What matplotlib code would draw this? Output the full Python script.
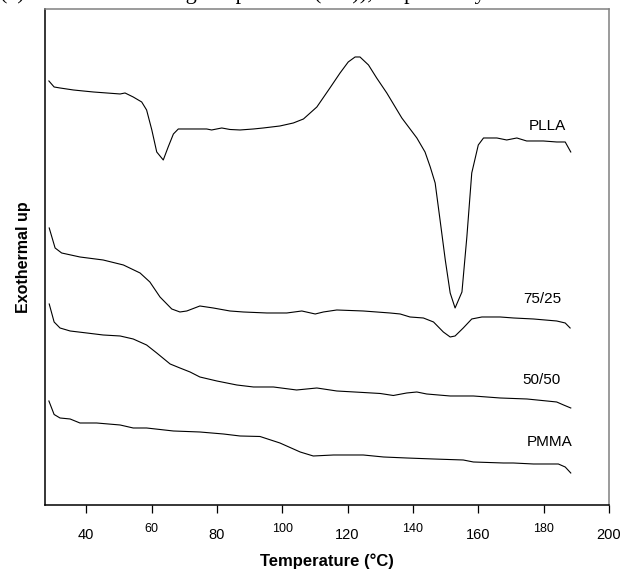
import numpy as np
import matplotlib.pyplot as plt

plt.rcParams["font.family"] = ["Liberation Sans", "DejaVu Sans"]

# DSC heating scans, temperature in degC and heat flow in arbitrary units
plla_t = [28.6, 30.2, 32.0, 36.1, 39.1, 42.2, 46.3, 50.4, 51.9, 54.4, 57.0, 58.5,
          60.1, 61.6, 63.6, 65.1, 66.7, 68.2, 76.9, 78.4, 81.5, 84.0, 87.1, 91.2,
          94.2, 99.3, 103.4, 106.5, 110.6, 114.6, 117.7, 120.2, 122.3, 123.8,
          126.4, 128.9, 132.0, 136.6, 141.2, 143.7, 145.3, 146.8, 148.3, 149.9,
          151.4, 152.9, 155.0, 156.5, 158.0, 160.0, 161.6, 165.7, 168.7, 171.8,
          174.8, 179.9, 184.0, 186.6, 188.3]
plla_h = [42.4, 41.8, 41.7, 41.5, 41.4, 41.3, 41.2, 41.1, 41.2, 40.8, 40.3, 39.5,
          37.5, 35.3, 34.5, 35.8, 37.1, 37.6, 37.6, 37.5, 37.7, 37.55, 37.5, 37.6,
          37.7, 37.9, 38.2, 38.6, 39.8, 41.7, 43.2, 44.3, 44.8, 44.8,
          44.0, 42.7, 41.2, 38.7, 36.7, 35.3, 33.8, 32.2, 28.5, 24.5,
          21.2, 19.7, 21.3, 26.8, 33.2, 36.0, 36.7, 36.7, 36.5, 36.7,
          36.4, 36.4, 36.3, 36.3, 35.3]

blend75_t = [28.7, 30.5, 32.5, 38.1, 45.2, 51.4, 56.5, 59.5, 62.6, 66.2, 68.7,
             70.8, 74.8, 78.9, 84.0, 88.1, 95.3, 101.4, 106.0, 110.1, 112.6,
             116.7, 124.8, 133.0, 136.1, 139.1, 143.2, 146.3, 149.3, 151.4, 152.9,
             155.4, 158.0, 161.1, 166.7, 170.8, 176.9, 184.0, 186.6, 188.1]
blend75_h = [27.7, 25.7, 25.2, 24.8, 24.5, 24.0, 23.2, 22.3, 20.8, 19.6, 19.3,
             19.4, 19.9, 19.7, 19.4, 19.3, 19.2, 19.2, 19.4, 19.1, 19.3,
             19.5, 19.4, 19.2, 19.1, 18.8, 18.7, 18.3, 17.3, 16.8, 16.9,
             17.7, 18.6, 18.8, 18.8, 18.7, 18.6, 18.4, 18.2, 17.7]

blend50_t = [28.7, 30.2, 32.0, 35.1, 40.2, 45.2, 50.4, 54.4, 58.5, 61.6, 65.7,
             68.7, 71.8, 74.8, 80.0, 86.1, 91.2, 97.3, 104.4, 110.6, 116.7,
             124.8, 130.0, 134.0, 138.1, 141.2, 144.2, 151.4, 158.5, 166.7, 174.9,
             181.0, 184.0, 186.1, 188.3]
blend50_h = [20.1, 18.3, 17.7, 17.4, 17.2, 17.0, 16.9, 16.6, 16.0, 15.2, 14.1,
             13.7, 13.3, 12.8, 12.4, 12.0, 11.8, 11.8, 11.5, 11.7, 11.4,
             11.25, 11.15, 10.95, 11.2, 11.3, 11.1, 10.9, 10.9, 10.7, 10.6,
             10.4, 10.3, 10.0, 9.7]

pmma_t = [28.6, 30.2, 32.0, 35.1, 38.1, 43.2, 50.4, 54.4, 58.5, 66.7, 74.8, 82.0,
          87.1, 93.2, 99.3, 105.5, 109.5, 115.7, 124.8, 131.0, 138.1, 146.3,
          155.4, 158.5, 167.7, 170.7, 176.9, 184.5, 186.6, 188.3]
pmma_h = [10.4, 9.05, 8.7, 8.6, 8.2, 8.2, 8.0, 7.7, 7.7, 7.4, 7.3, 7.1,
          6.9, 6.85, 6.2, 5.3, 4.9, 5.0, 5.0, 4.8, 4.7, 4.6,
          4.5, 4.3, 4.2, 4.2, 4.1, 4.1, 3.8, 3.2]

names = ["PLLA", "75/25", "50/50", "PMMA"]
label_t = [181.2, 179.7, 179.4, 181.7]
label_h = [37.85, 20.6, 12.5, 6.25]

major_ticks = [40, 80, 120, 160, 200]
minor_ticks = [60, 100, 140, 180]

fig = plt.figure(figsize=(6.22, 5.71), dpi=100)
ax = fig.add_axes([0.0723, 0.1156, 0.9068, 0.8678])

curves = [(plla_t, plla_h), (blend75_t, blend75_h),
          (blend50_t, blend50_h), (pmma_t, pmma_h)]
for t, h in curves:
    ax.plot(t, h, color="black", lw=0.8)

for i, name in enumerate(names):
    ax.text(label_t[i], label_h[i], name, ha="center", va="center", fontsize=11)

ax.set_xlim(27.4, 200)
ax.set_ylim(0, 49.55)
ax.set_yticks([])

ax.set_xticks(major_ticks)
ax.set_xticks(minor_ticks, minor=True)
ax.set_xticklabels([str(v) for v in major_ticks])
ax.set_xticklabels([str(v) for v in minor_ticks], minor=True)
ax.tick_params(axis="x", which="major", direction="out", length=5.5, width=0.9,
               pad=11, labelsize=10.5)
ax.tick_params(axis="x", which="minor", direction="out", length=5.5, width=0.9,
               pad=7.5, labelsize=9)

for side in ["left", "bottom"]:
    ax.spines[side].set_color("black")
    ax.spines[side].set_linewidth(1.1)
for side in ["top", "right"]:
    ax.spines[side].set_color("#808080")
    ax.spines[side].set_linewidth(1.1)

ax.set_xlabel("Temperature (°C)", fontsize=12, fontweight="bold", labelpad=8)
ax.set_ylabel("Exothermal up", fontsize=11.5, fontweight="bold", labelpad=10)

# caption line of the page above the chart, only its lower edge is in view
fig.text(0.0, 1 + 1.0 / 571, "(c)      and the melting temperature (Tm)), respectively",
         family="Liberation Serif", fontsize=16, va="baseline", ha="left")

fig.savefig("out.png", dpi=100)
